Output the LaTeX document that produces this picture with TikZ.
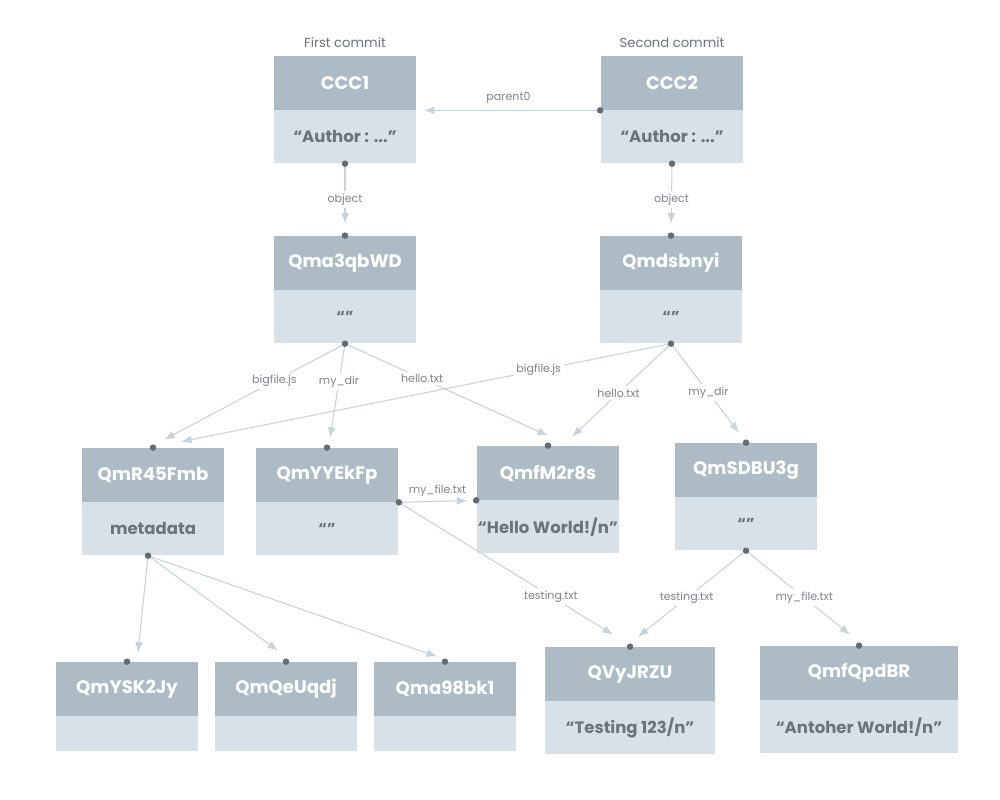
\documentclass[tikz,border=0pt]{standalone}
\usepackage{fontspec}
\setmainfont{Poppins}
\usetikzlibrary{positioning,arrows.meta}

\definecolor{headgray}{HTML}{ADBBC6}
\definecolor{bodygray}{HTML}{D9E1E8}
\definecolor{textgray}{HTML}{6B737D}
\definecolor{lblgray}{HTML}{7D858F}
\definecolor{linkblue}{HTML}{C3D3DF}
\definecolor{dotgray}{HTML}{646B75}

\tikzset{
  head/.style={fill=headgray, text=white, font=\bfseries\fontsize{10.3}{12}\selectfont,
    minimum width=2.86cm, minimum height=1.08cm, inner sep=0pt},
  body/.style={fill=bodygray, text=textgray, font=\bfseries\fontsize{9.4}{11}\selectfont,
    minimum width=2.86cm, minimum height=1.06cm, inner sep=0pt},
  caption/.style={text=textgray, font=\fontsize{7.5}{9}\selectfont, inner sep=1pt},
  lbl/.style={fill=white, text=lblgray, font=\fontsize{6.3}{8}\selectfont, inner sep=1.5pt},
  link/.style={draw=linkblue, line width=0.6pt, -{Latex[length=6pt,width=4.5pt]}},
}

\begin{document}
\begin{tikzpicture}[x=0.02cm, y=-0.02cm]
    \useasboundingbox (0,0) rectangle (1000,799);

    % commits
    \node[head] (ccc1) at (345,83) {CCC1};
    \node[body, below=-0.2pt of ccc1] (ccc1b) {“Author : ...”};
    \node[head] (ccc2) at (672,83) {CCC2};
    \node[body, below=-0.2pt of ccc2] (ccc2b) {“Author : ...”};
    \node[caption, above=0.12cm of ccc1] (first) {First commit};
    \node[caption, above=0.12cm of ccc2] (second) {Second commit};

    % root directories
    \node[head] (qma3) at (345,263) {Qma3qbWD};
    \node[body, below=-0.2pt of qma3] (qma3b) {\small “”};
    \node[head] (qmds) at (671,263) {Qmdsbnyi};
    \node[body, below=-0.2pt of qmds] (qmdsb) {\small “”};

    % middle row
    \node[head] (qmr45) at (153,475) {QmR45Fmb};
    \node[body, below=-0.2pt of qmr45] (qmr45b) {metadata};
    \node[head] (qmyy) at (327,475) {QmYYEkFp};
    \node[body, below=-0.2pt of qmyy] (qmyyb) {\small “”};
    \node[head] (qmfm) at (548,473) {QmfM2r8s};
    \node[body, below=-0.2pt of qmfm] (qmfmb) {“Hello World!/n”};
    \node[head] (qmsd) at (746,470) {QmSDBU3g};
    \node[body, below=-0.2pt of qmsd] (qmsdb) {\small “”};

    % bottom row
    \node[head] (qmysk) at (127,689) {QmYSK2Jy};
    \node[body, minimum height=0.7cm, below=-0.2pt of qmysk] (qmyskb) {};
    \node[head] (qmqe) at (286,689) {QmQeUqdj};
    \node[body, minimum height=0.7cm, below=-0.2pt of qmqe] (qmqeb) {};
    \node[head] (qma98) at (445,689) {Qma98bk1};
    \node[body, minimum height=0.7cm, below=-0.2pt of qma98] (qma98b) {};
    \node[head, minimum width=3.42cm] (qvy) at (630,674) {QVyJRZU};
    \node[body, minimum width=3.42cm, below=-0.2pt of qvy] (qvyb) {“Testing 123/n”};
    \node[head, minimum width=3.96cm] (qmfq) at (859,673) {QmfQpdBR};
    \node[body, minimum width=3.96cm, below=-0.2pt of qmfq] (qmfqb) {“Antoher World!/n”};

    % arrow ends
    \coordinate (mdot) at ([xshift=-0.1cm]qmr45b.south);
    \coordinate (big1) at ([shift={(11,-8)}]qmr45.north);
    \coordinate (big2) at ([shift={(28,-6)}]qmr45.north);
    \coordinate (dir1) at ([shift={(3,-10)}]qmyy.north);
    \coordinate (hel1) at ([shift={(0,-10)}]qmfm.north);
    \coordinate (hel2) at ([shift={(24,-9)}]qmfm.north);
    \coordinate (dir2) at ([shift={(-7,-10)}]qmsd.north);
    \coordinate (tst1) at ([shift={(-17,-12)}]qvy.north);
    \coordinate (tst2) at ([shift={(8,-10)}]qvy.north);
    \coordinate (fil2) at ([shift={(-9,-11)}]qmfq.north);
    \coordinate (met1) at ([shift={(11,-9)}]qmysk.north);
    \coordinate (met2) at ([shift={(-8,-11)}]qmqe.north);
    \coordinate (met3) at ([shift={(-8,-5)}]qma98.north);

    % links
    \draw[link, shorten >=4pt] (ccc2.south west) -- node[lbl, fill=none, above=2pt] {parent0} (ccc1.south east);
    \draw[link, shorten >=7pt] (ccc1b.south) -- node[lbl] {object} (qma3.north);
    \draw[link, shorten >=7pt] (ccc2b.south) -- node[lbl] {object} (qmds.north);
    \draw[link] (qma3b.south) -- node[lbl, pos=0.39] {bigfile.js} (big1);
    \draw[link] (qma3b.south) -- node[lbl, pos=0.40] {my\_dir} (dir1);
    \draw[link] (qma3b.south) -- node[lbl, pos=0.38] {hello.txt} (hel1);
    \draw[link] (qmdsb.south) -- node[lbl, pos=0.27] {bigfile.js} (big2);
    \draw[link] (qmdsb.south) -- node[lbl, pos=0.53] {hello.txt} (hel2);
    \draw[link] (qmdsb.south) -- node[lbl, pos=0.55] {my\_dir} (dir2);
    \draw[link, shorten >=5pt] (qmyy.south east) -- node[lbl, fill=none, above=1pt] {my\_file.txt} (qmfm.south west);
    \draw[link] (qmyy.south east) -- node[lbl, pos=0.71] {testing.txt} (tst1);
    \draw[link] (qmsdb.south) -- node[lbl, pos=0.55] {testing.txt} (tst2);
    \draw[link] (qmsdb.south) -- node[lbl, pos=0.56] {my\_file.txt} (fil2);
    \foreach \m in {met1, met2, met3}
        \draw[link] (mdot) -- (\m);

    % dots
    \foreach \d in {ccc1b.south, ccc2b.south, ccc2.south west, qma3.north, qma3b.south,
        qmds.north, qmdsb.south, qmr45.north, mdot, qmyy.north, qmyy.south east,
        qmfm.north, qmfm.south west, qmsd.north, qmsdb.south, qmysk.north, qmqe.north,
        qma98.north, qvy.north, qmfq.north}
        \fill[dotgray] (\d) circle (0.065cm);
\end{tikzpicture}
\end{document}
